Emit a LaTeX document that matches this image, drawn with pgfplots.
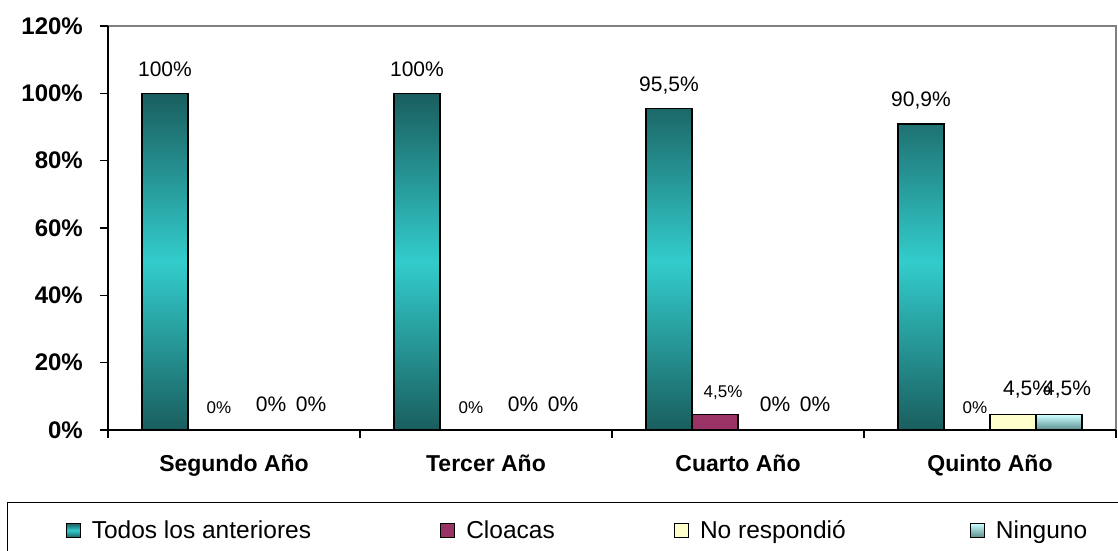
\documentclass[border=0pt]{standalone}
\usepackage{pgfplots}
\pgfplotsset{compat=1.18}
\usepackage{fontspec}
\setmainfont{Liberation Sans}
\definecolor{tealdark}{RGB}{26,94,94}
\definecolor{tealmid}{RGB}{51,204,204}
\definecolor{cloaca}{RGB}{153,51,102}
\definecolor{nores}{RGB}{255,255,204}
\definecolor{ningtop}{RGB}{204,255,255}
\definecolor{ningbot}{RGB}{90,140,140}

\pgfplotsset{
  sq legend/.style={legend image code/.code={\draw[##1, draw=black, line width=1.2pt] (0pt,-7pt) rectangle (14pt,7pt);}},
  lab/.style 2 args={nodes near coords, point meta=explicit symbolic,
    every node near coord/.append style={font=\fontsize{#1}{#1}\selectfont, anchor=base, inner sep=0pt, #2}},
}

\begin{document}
\begin{tikzpicture}
\path[use as bounding box] (-108pt,-120pt) rectangle (1010pt,430pt);
\begin{axis}[
  at={(0pt,0pt)}, anchor=south west,
  scale only axis, width=1008pt, height=404pt,
  xmin=-0.5, xmax=3.5, ymin=0, ymax=1.2,
  axis lines=left, axis line style={-, black, line width=1.3pt},
  axis background/.style={draw=gray, line width=1.2pt},
  clip=false,
  ybar=0pt, bar width=46pt,
  xtick={-0.5,0.5,1.5,2.5,3.5}, xticklabels={},
  extra x ticks={0,1,2,3},
  extra x tick labels={Segundo Año,Tercer Año,Cuarto Año,Quinto Año},
  extra x tick style={major tick length=0pt,
    xticklabel style={font=\fontsize{23}{23}\selectfont\bfseries, inner sep=0pt, anchor=north, yshift=-25pt}},
  ytick={0,0.2,0.4,0.6,0.8,1.0,1.2},
  yticklabels={0\%,20\%,40\%,60\%,80\%,100\%,120\%},
  yticklabel style={font=\fontsize{24}{24}\selectfont\bfseries, anchor=east, inner sep=0pt, xshift=-17pt},
  tick align=outside, major tick length=8pt,
  tick style={black, line width=1.2pt},
  legend style={at={(-0.1002,-0.1782)}, anchor=north west, draw=black, line width=1.3pt,
    font=\fontsize{24.5}{24.5}\selectfont, inner xsep=58pt, inner ysep=16pt,
    /tikz/column 1/.style={column sep=9pt},
    /tikz/column 3/.style={column sep=9pt},
    /tikz/column 5/.style={column sep=9pt},
    /tikz/column 7/.style={column sep=9pt},
    /tikz/column 2/.style={column sep=127pt},
    /tikz/column 4/.style={column sep=117pt},
    /tikz/column 6/.style={column sep=122pt}},
  legend columns=4, legend cell align=left,
]
\addplot[draw=black, line width=1.2pt, top color=tealdark, bottom color=tealdark, middle color=tealmid,
  sq legend, lab={21}{yshift=17pt}]
  coordinates {(0,1.0) [100\%] (1,1.0) [100\%] (2,0.955) [95,5\%] (3,0.909) [90,9\%]};
\addplot[draw=black, line width=1.2pt, fill=cloaca,
  sq legend, lab={17}{yshift=17pt, xshift=8pt}]
  coordinates {(0,0) [0\%] (1,0) [0\%] (2,0.045) [4,5\%] (3,0) [0\%]};
\addplot[draw=black, line width=1.2pt, fill=nores,
  sq legend, lab={21}{yshift=19pt, xshift=14pt}]
  coordinates {(0,0) [0\%] (1,0) [0\%] (2,0) [0\%] (3,0.045) [4,5\%]};
\addplot[draw=black, line width=1.2pt, top color=ningtop, bottom color=ningbot,
  sq legend, lab={21}{yshift=19pt, xshift=8pt}]
  coordinates {(0,0) [0\%] (1,0) [0\%] (2,0) [0\%] (3,0.045) [4,5\%]};
\legend{Todos los anteriores, Cloacas, No respondió, Ninguno}
\end{axis}
\end{tikzpicture}
\end{document}
